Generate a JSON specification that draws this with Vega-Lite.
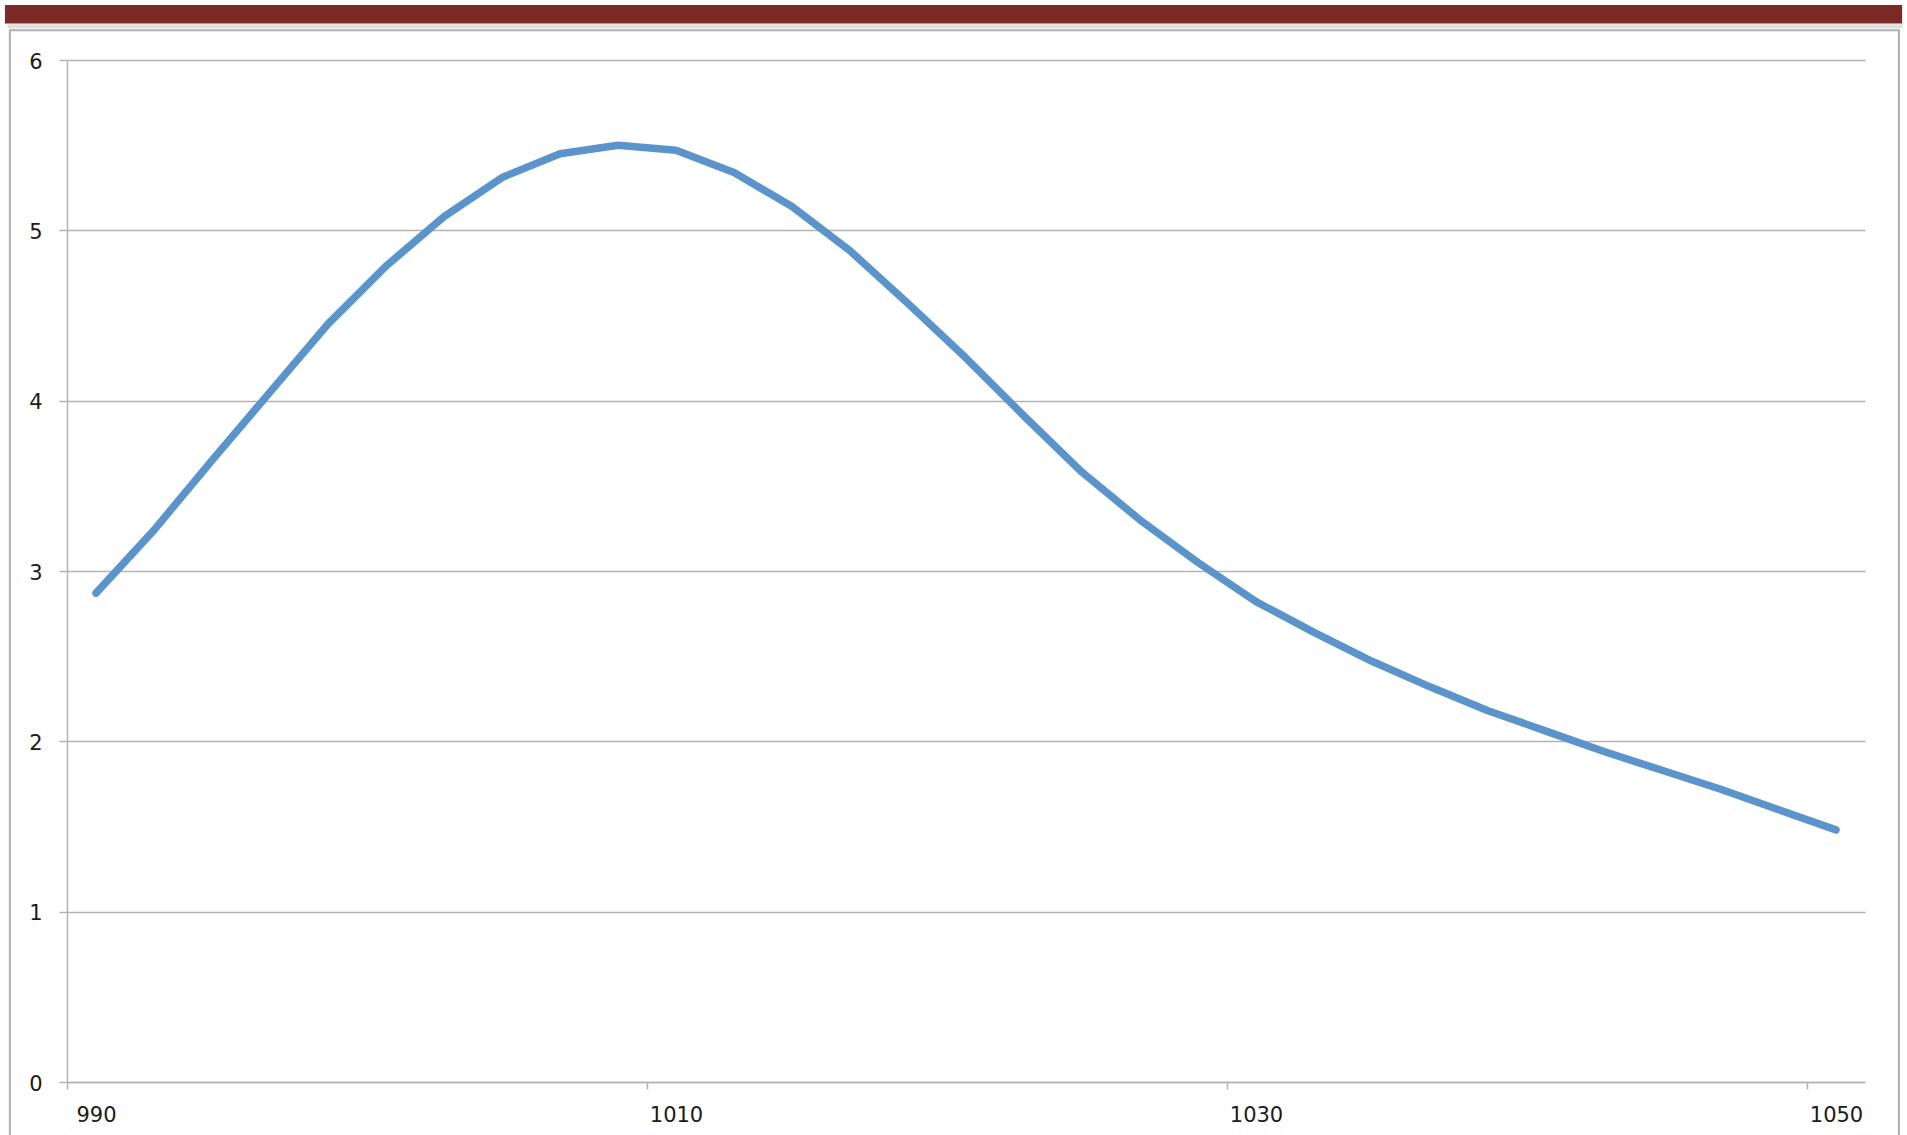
{
  "$schema": "https://vega.github.io/schema/vega-lite/v6.json",
  "width": 1798,
  "height": 1022,
  "autosize": {"type": "none"},
  "padding": {"left": 67, "top": 60, "right": 42, "bottom": 53},
  "background": "white",
  "config": {
    "view": {"stroke": null},
    "axis": {
      "labelFont": "DejaVu Sans",
      "labelFontSize": 21,
      "labelColor": "#1a1a1a",
      "domainColor": "#b3b3b3",
      "tickColor": "#b3b3b3",
      "gridColor": "#b3b3b3",
      "domainWidth": 1.5,
      "tickWidth": 1.5,
      "gridWidth": 1.5,
      "title": null
    }
  },
  "data": {
    "values": [
      {"wavelength": 990, "value": 2.87},
      {"wavelength": 992, "value": 3.24},
      {"wavelength": 994, "value": 3.65},
      {"wavelength": 996, "value": 4.05},
      {"wavelength": 998, "value": 4.45},
      {"wavelength": 1000, "value": 4.79},
      {"wavelength": 1002, "value": 5.08},
      {"wavelength": 1004, "value": 5.31},
      {"wavelength": 1006, "value": 5.45},
      {"wavelength": 1008, "value": 5.50},
      {"wavelength": 1010, "value": 5.47},
      {"wavelength": 1012, "value": 5.34},
      {"wavelength": 1014, "value": 5.14},
      {"wavelength": 1016, "value": 4.88},
      {"wavelength": 1018, "value": 4.57},
      {"wavelength": 1020, "value": 4.25},
      {"wavelength": 1022, "value": 3.91},
      {"wavelength": 1024, "value": 3.58},
      {"wavelength": 1026, "value": 3.30},
      {"wavelength": 1028, "value": 3.05},
      {"wavelength": 1030, "value": 2.82},
      {"wavelength": 1032, "value": 2.64},
      {"wavelength": 1034, "value": 2.47},
      {"wavelength": 1036, "value": 2.32},
      {"wavelength": 1038, "value": 2.18},
      {"wavelength": 1040, "value": 2.06},
      {"wavelength": 1042, "value": 1.94},
      {"wavelength": 1044, "value": 1.83},
      {"wavelength": 1046, "value": 1.72},
      {"wavelength": 1048, "value": 1.60},
      {"wavelength": 1050, "value": 1.48}
    ]
  },
  "layer": [
    {
      "data": {"values": [{}]},
      "mark": {"type": "rect", "fill": "#000000", "opacity": 0.12},
      "encoding": {
        "x": {"datum": 986.95, "type": "quantitative", "scale": {"domain": [989, 1051], "nice": false, "zero": false}},
        "x2": {"datum": 1052.3},
        "y": {"datum": 6.21, "type": "quantitative", "scale": {"domain": [0, 6], "nice": false, "zero": false}},
        "y2": {"datum": 6.185}
      }
    },
    {
      "data": {"values": [{}]},
      "mark": {"type": "rect", "fill": "#7b2a26"},
      "encoding": {
        "x": {"datum": 986.86, "type": "quantitative", "scale": {"domain": [989, 1051], "nice": false, "zero": false}},
        "x2": {"datum": 1052.28},
        "y": {"datum": 6.323, "type": "quantitative", "scale": {"domain": [0, 6], "nice": false, "zero": false}},
        "y2": {"datum": 6.215}
      }
    },
    {
      "data": {"values": [{}]},
      "mark": {"type": "rect", "fill": null, "fillOpacity": 0, "stroke": "#b0b0b0", "strokeWidth": 2},
      "encoding": {
        "x": {"datum": 987.03, "type": "quantitative", "scale": {"domain": [989, 1051], "nice": false, "zero": false}},
        "x2": {"datum": 1052.17},
        "y": {"datum": 6.174, "type": "quantitative", "scale": {"domain": [0, 6], "nice": false, "zero": false}},
        "y2": {"datum": -0.6}
      }
    },
    {
      "mark": {"type": "line", "color": "#5a94cb", "strokeWidth": 7.5, "strokeCap": "round", "strokeJoin": "round"},
      "encoding": {
        "x": {
          "field": "wavelength",
          "type": "quantitative",
          "scale": {"domain": [989, 1051], "nice": false, "zero": false},
          "axis": {
            "values": [989, 1009, 1029, 1049],
            "labelExpr": "format(datum.value + 1, 'd')",
            "labelOffset": 29,
            "tickSize": 7,
            "labelPadding": 15,
            "grid": false,
            "labelAlign": "center",
            "labelBaseline": "top",
            "labelFlush": false,
            "labelOverlap": false
          }
        },
        "y": {
          "field": "value",
          "type": "quantitative",
          "scale": {"domain": [0, 6], "nice": false, "zero": false},
          "axis": {
            "values": [0, 1, 2, 3, 4, 5, 6],
            "format": "d",
            "tickSize": 8,
            "labelPadding": 17,
            "grid": true,
            "labelFlush": false,
            "labelOverlap": false,
            "labelOffset": 2
          }
        }
      }
    }
  ]
}
